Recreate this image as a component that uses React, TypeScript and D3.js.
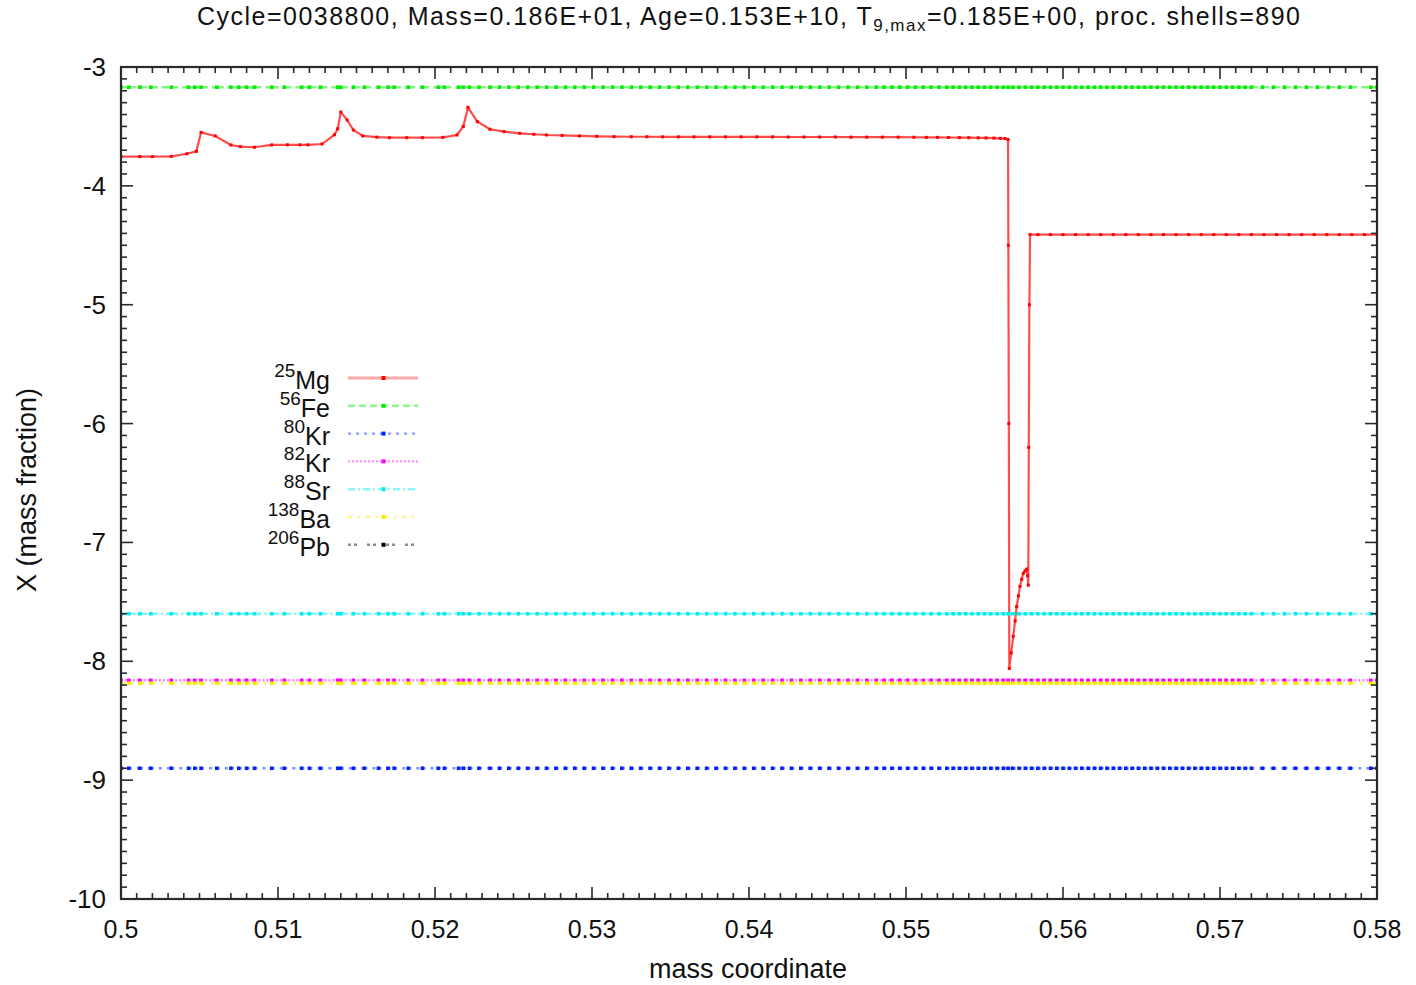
import React from "react";
import * as d3 from "d3";

const W = 1416;
const H = 985;
const M = { left: 121, right: 1377, top: 67, bottom: 899 };
const FONT = "'Liberation Sans', Arial, Helvetica, sans-serif";

// mass coordinates of the model shells (where the point marks sit)
const shellMass = [
  0.5, 0.5005, 0.5012, 0.5019, 0.5032, 0.5043, 0.5047, 0.5051, 0.5061, 0.507,
  0.5075, 0.508, 0.5085, 0.5096, 0.5104, 0.5115, 0.512, 0.5127, 0.5138, 0.514,
  0.5148, 0.5155, 0.5164, 0.517, 0.5174, 0.5183, 0.5192, 0.5202, 0.5206, 0.5215,
  0.5218, 0.5222, 0.5228, 0.5235,
  0.5241, 0.5247, 0.5253, 0.5259, 0.5265, 0.5271, 0.5277, 0.5283, 0.5289, 0.5295,
  0.5301, 0.5307, 0.5313, 0.5319, 0.5325, 0.5331, 0.5337, 0.5343, 0.5349, 0.5355,
  0.5361, 0.5367, 0.5373, 0.5379, 0.5385, 0.5391, 0.5397, 0.5403, 0.5409, 0.5415,
  0.5421, 0.5427, 0.5433, 0.5439, 0.5445, 0.5451, 0.5457, 0.5463, 0.5469, 0.5475,
  0.5481, 0.5486, 0.5491, 0.5496, 0.5501, 0.5506, 0.5511, 0.5516, 0.5521, 0.5526,
  0.553, 0.5534, 0.5538, 0.5542, 0.5546, 0.555, 0.5554, 0.5558, 0.5562, 0.5565,
  0.5568, 0.5572, 0.5576, 0.558, 0.5584, 0.5588, 0.5592, 0.5596, 0.56, 0.5604,
  0.5608, 0.5612, 0.5616, 0.562, 0.5624, 0.5628, 0.5632, 0.5636, 0.564, 0.5644,
  0.5648, 0.5652, 0.5656, 0.566, 0.5664, 0.5668, 0.5672, 0.5676, 0.568, 0.5684,
  0.5688, 0.5692, 0.5696, 0.57, 0.5704, 0.5708, 0.5712, 0.5716, 0.572,
  0.5727, 0.5734, 0.5741, 0.5748, 0.5755, 0.5762, 0.5769, 0.5776, 0.5783, 0.5796, 0.58,
];

// 25Mg profile: [mass coordinate, log10 X]
const mg25: [number, number][] = [
  [0.5, -3.754], [0.5012, -3.754], [0.502, -3.754], [0.5032, -3.752], [0.5042, -3.73],
  [0.5048, -3.71], [0.5051, -3.55], [0.506, -3.58], [0.507, -3.656], [0.5076, -3.67],
  [0.5085, -3.675], [0.5096, -3.656], [0.5106, -3.655], [0.5114, -3.655], [0.5119, -3.655],
  [0.5128, -3.648], [0.5136, -3.57], [0.5138, -3.52], [0.514, -3.38], [0.5144, -3.445],
  [0.5148, -3.53], [0.5154, -3.58], [0.5163, -3.59], [0.5171, -3.595], [0.5182, -3.595],
  [0.5192, -3.595], [0.5205, -3.592], [0.5214, -3.572], [0.5218, -3.5], [0.5221, -3.34],
  [0.5227, -3.46], [0.5235, -3.524], [0.5244, -3.544], [0.5254, -3.558], [0.5263, -3.566],
  [0.5271, -3.572], [0.5281, -3.576], [0.5292, -3.58], [0.5303, -3.583], [0.5314, -3.586],
  [0.5325, -3.587], [0.5335, -3.587], [0.5345, -3.588], [0.5355, -3.588], [0.5365, -3.588],
  [0.5375, -3.588], [0.5385, -3.588], [0.5395, -3.588], [0.5405, -3.588], [0.5415, -3.588],
  [0.5425, -3.589], [0.5435, -3.589], [0.5445, -3.589], [0.5455, -3.589], [0.5465, -3.59],
  [0.5475, -3.59], [0.5485, -3.59], [0.5495, -3.59], [0.5505, -3.591], [0.5513, -3.592],
  [0.552, -3.592], [0.5527, -3.593], [0.5534, -3.594], [0.554, -3.595], [0.5546, -3.596],
  [0.5551, -3.597], [0.5556, -3.598], [0.556, -3.6], [0.5563, -3.602], [0.5565, -3.61],
  [0.55652, -4.5], [0.55655, -6.0], [0.55658, -8.06], [0.5567, -7.93], [0.55683, -7.79],
  [0.55695, -7.66], [0.55705, -7.54], [0.55716, -7.45], [0.55726, -7.37], [0.55737, -7.31],
  [0.55747, -7.26], [0.55758, -7.24], [0.55769, -7.225], [0.55775, -7.28], [0.55779, -7.36],
  [0.55782, -6.2], [0.55786, -5.0], [0.5579, -4.41], [0.5584, -4.41], [0.5592, -4.41],
  [0.56, -4.41], [0.5608, -4.41], [0.5616, -4.41], [0.5624, -4.41], [0.5632, -4.41],
  [0.564, -4.41], [0.5648, -4.41], [0.5656, -4.41], [0.5664, -4.41], [0.5672, -4.41],
  [0.568, -4.41], [0.5688, -4.41], [0.5696, -4.41], [0.5704, -4.41], [0.5712, -4.41],
  [0.572, -4.41], [0.5728, -4.41], [0.5736, -4.41], [0.5744, -4.41], [0.5752, -4.41],
  [0.576, -4.41], [0.5768, -4.41], [0.5776, -4.41], [0.5784, -4.41], [0.5792, -4.41],
  [0.58, -4.41],
];

// species that stay flat across the window (log mass fraction)
const flatSpecies = ["56Fe", "80Kr", "82Kr", "88Sr", "138Ba", "206Pb"];
const flatLogX = [-3.17, -8.9, -8.16, -7.6, -8.185, -10.8];

// legend
const legendA = ["25", "56", "80", "82", "88", "138", "206"];
const legendEl = ["Mg", "Fe", "Kr", "Kr", "Sr", "Ba", "Pb"];
const colors = ["#ff0000", "#00ee00", "#0022ff", "#ff00ff", "#00eeee", "#f8ea00", "#000000"];
const dashes = ["", "7,4", "3,5", "2,2", "7,3,2,3", "4,6,2,6", "3,3,3,10"];

const xTickValues = [0.5, 0.51, 0.52, 0.53, 0.54, 0.55, 0.56, 0.57, 0.58];
const xTickLabels = ["0.5", "0.51", "0.52", "0.53", "0.54", "0.55", "0.56", "0.57", "0.58"];
const yTickValues = [-10, -9, -8, -7, -6, -5, -4, -3];
const yTickLabels = ["-10", "-9", "-8", "-7", "-6", "-5", "-4", "-3"];

export default function App() {
  const x = d3.scaleLinear().domain([0.5, 0.58]).range([M.left, M.right]);
  const y = d3.scaleLinear().domain([-10, -3]).range([M.bottom, M.top]);
  const xMinor = x.ticks(80);
  const yMinor = y.ticks(70);

  const flatPts: [number, number][][] = flatLogX.map((v) => shellMass.map((m) => [m, v] as [number, number]));
  const line = d3.line<[number, number]>().x((d) => x(d[0])).y((d) => y(d[1]));

  const tickColor = "#2a2a2a";
  const legendRow = (i: number) => 378 + i * 27.8;
  const ms = 3.6;

  return (
    <svg width={W} height={H} style={{ position: "absolute", left: 0, top: 0, background: "#fff" }} fontFamily={FONT}>
      <defs>
        <clipPath id="plotclip">
          <rect x={M.left} y={M.top} width={M.right - M.left} height={M.bottom - M.top} />
        </clipPath>
      </defs>
      <rect width={W} height={H} fill="#fff" />

      {/* title */}
      <text x={197} y={25} fontSize={25} fill="#111" textLength={1103} lengthAdjust="spacing">
        Cycle=0038800, Mass=0.186E+01, Age=0.153E+10, T
        <tspan fontSize={17} dy={6}>9,max</tspan>
        <tspan dy={-6}>=0.185E+00, proc. shells=890</tspan>
      </text>

      {/* data */}
      <g clipPath="url(#plotclip)">
        <path d={line(mg25) || ""} fill="none" stroke={colors[0]} strokeOpacity={0.7} strokeWidth={2.2} />
        {mg25.map((p, j) => (
          <rect key={"mgp" + j} x={x(p[0]) - 1.5} y={y(p[1]) - 1.5} width={3} height={3} fill={colors[0]} />
        ))}
        {flatPts.map((pts, k) => (
          <g key={flatSpecies[k]}>
            {pts.slice(1).map((p, j) => (
              <line
                key={j}
                x1={x(pts[j][0])}
                y1={y(pts[j][1])}
                x2={x(p[0])}
                y2={y(p[1])}
                stroke={colors[k + 1]}
                strokeOpacity={k === 4 ? 0.75 : 0.5}
                strokeWidth={2.4}
                strokeDasharray={dashes[k + 1]}
              />
            ))}
            {pts.map((p, j) => (
              <rect key={"p" + j} x={x(p[0]) - ms / 2} y={y(p[1]) - ms / 2} width={ms} height={ms} fill={colors[k + 1]} />
            ))}
          </g>
        ))}
      </g>

      {/* legend */}
      {legendEl.map((el, i) => (
        <g key={"lg" + i}>
          <text x={330} y={legendRow(i) + 11} textAnchor="end" fontSize={25} fill="#111">
            <tspan fontSize={19} dy={-12}>{legendA[i]}</tspan>
            <tspan dy={12}>{el}</tspan>
          </text>
          <line
            x1={348}
            x2={418}
            y1={legendRow(i)}
            y2={legendRow(i)}
            stroke={colors[i]}
            strokeOpacity={i === 0 ? 0.35 : 0.45}
            strokeWidth={i === 0 ? 3.2 : 2.4}
            strokeDasharray={dashes[i] || undefined}
          />
          <rect x={381.5} y={legendRow(i) - 2} width={4} height={4} fill={colors[i]} />
        </g>
      ))}

      {/* ticks, mirrored on all four sides */}
      <g stroke={tickColor} strokeWidth={1.6}>
        {xMinor.map((t, i) => {
          const major = xTickValues.some((v) => Math.abs(v - t) < 1e-9);
          const len = major ? 12 : 6;
          return (
            <g key={"xt" + i}>
              <line x1={x(t)} x2={x(t)} y1={M.bottom} y2={M.bottom - len} />
              <line x1={x(t)} x2={x(t)} y1={M.top} y2={M.top + len} />
            </g>
          );
        })}
        {yMinor.map((t, i) => {
          const major = yTickValues.some((v) => Math.abs(v - t) < 1e-9);
          const len = major ? 12 : 6;
          return (
            <g key={"yt" + i}>
              <line x1={M.left} x2={M.left + len} y1={y(t)} y2={y(t)} />
              <line x1={M.right} x2={M.right - len} y1={y(t)} y2={y(t)} />
            </g>
          );
        })}
      </g>
      <rect
        x={M.left}
        y={M.top}
        width={M.right - M.left}
        height={M.bottom - M.top}
        fill="none"
        stroke={tickColor}
        strokeWidth={2.2}
      />

      {/* tick labels */}
      {xTickValues.map((v, i) => (
        <text key={"xl" + i} x={x(v)} y={938} textAnchor="middle" fontSize={25} fill="#111">
          {xTickLabels[i]}
        </text>
      ))}
      {yTickValues.map((v, i) => (
        <text key={"yl" + i} x={106} y={y(v) + 9} textAnchor="end" fontSize={26} fill="#111">
          {yTickLabels[i]}
        </text>
      ))}

      {/* axis titles */}
      <text x={748} y={978} textAnchor="middle" fontSize={27} fill="#111">
        mass coordinate
      </text>
      <text transform="translate(36,490) rotate(-90)" textAnchor="middle" fontSize={27} fill="#111">
        X (mass fraction)
      </text>
    </svg>
  );
}
